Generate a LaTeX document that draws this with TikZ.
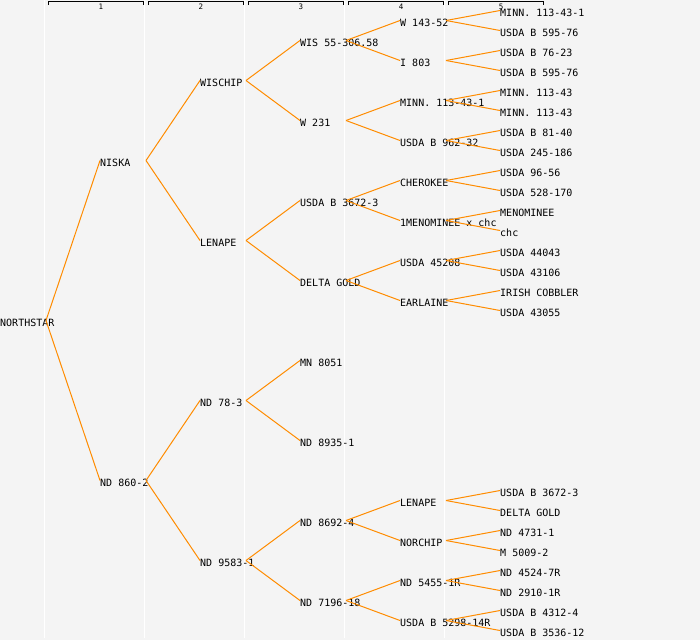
\documentclass[tikz,border=0pt]{standalone}
\usepackage{fontspec}
\setmonofont{DejaVu Sans Mono}

\definecolor{bggray}{HTML}{F4F4F4}
\definecolor{linkorange}{HTML}{FF8C00}

\begin{document}
\begin{tikzpicture}[x=1pt, y=-1pt,
    lbl/.style={anchor=west, inner sep=0pt, text height=12pt, text depth=0pt,
        font=\ttfamily\fontsize{10}{12}\selectfont},
    link/.style={draw=linkorange, line width=1pt},
    colnum/.style={inner sep=0pt, font=\ttfamily\fontsize{7.5}{8}\selectfont}]

    \fill[bggray] (0,0) rectangle (700,640);
    \useasboundingbox (0,0) rectangle (700,640);

    \foreach \x in {44,144,244,344,444}
        \draw[white, line width=1pt] (\x,0) -- (\x,638);

    \foreach \i in {1,...,5} {
        \draw[line width=0.9pt] (\i*100-52,5) -- (\i*100-52,1.5) -- (\i*100+43,1.5) -- (\i*100+43,5);
        \node[colnum] (col\i) at (\i*100+1,6.5) {\i};
    }

    \foreach \n/\x/\y/\t in {r/0/320.5/NORTHSTAR,
        ra/100/160.5/NISKA, rb/100/480.5/ND 860-2,
        raa/200/80.5/WISCHIP, rab/200/240.5/LENAPE, rba/200/400.5/ND 78-3, rbb/200/560.5/ND 9583-1,
        raaa/300/40.5/WIS 55-306.58, raab/300/120.5/W 231, raba/300/200.5/USDA B 3672-3, rabb/300/280.5/DELTA GOLD,
        rbaa/300/360.5/MN 8051, rbab/300/440.5/ND 8935-1, rbba/300/520.5/ND 8692-4, rbbb/300/600.5/ND 7196-18,
        raaaa/400/20.5/W 143-52, raaab/400/60.5/I 803, raaba/400/100.5/MINN. 113-43-1, raabb/400/140.5/USDA B 962-32,
        rabaa/400/180.5/CHEROKEE, rabab/400/220.5/1MENOMINEE x chc, rabba/400/260.5/USDA 45208, rabbb/400/300.5/EARLAINE,
        rbbaa/400/500.5/LENAPE, rbbab/400/540.5/NORCHIP, rbbba/400/580.5/ND 5455-1R, rbbbb/400/620.5/USDA B 5298-14R,
        raaaaa/500/10.5/MINN. 113-43-1, raaaab/500/30.5/USDA B 595-76, raaaba/500/50.5/USDA B 76-23, raaabb/500/70.5/USDA B 595-76,
        raabaa/500/90.5/MINN. 113-43, raabab/500/110.5/MINN. 113-43, raabba/500/130.5/USDA B 81-40, raabbb/500/150.5/USDA 245-186,
        rabaaa/500/170.5/USDA 96-56, rabaab/500/190.5/USDA 528-170, rababa/500/210.5/MENOMINEE, rababb/500/230.5/chc,
        rabbaa/500/250.5/USDA 44043, rabbab/500/270.5/USDA 43106, rabbba/500/290.5/IRISH COBBLER, rabbbb/500/310.5/USDA 43055,
        rbbaaa/500/490.5/USDA B 3672-3, rbbaab/500/510.5/DELTA GOLD, rbbaba/500/530.5/ND 4731-1, rbbabb/500/550.5/M 5009-2,
        rbbbaa/500/570.5/ND 4524-7R, rbbbab/500/590.5/ND 2910-1R, rbbbba/500/610.5/USDA B 4312-4, rbbbbb/500/630.5/USDA B 3536-12}
        \node[lbl] (\n) at (\x,\y) {\t};

    \foreach \p in {r, ra, rb, raa, rab, rba, rbb, raaa, raab, raba, rabb, rbba, rbbb,
        raaaa, raaab, raaba, raabb, rabaa, rabab, rabba, rabbb, rbbaa, rbbab, rbbba, rbbbb}
        \foreach \c in {a, b}
            \draw[link] ([xshift=46pt]\p.west) -- (\p\c.west);

\end{tikzpicture}
\end{document}
